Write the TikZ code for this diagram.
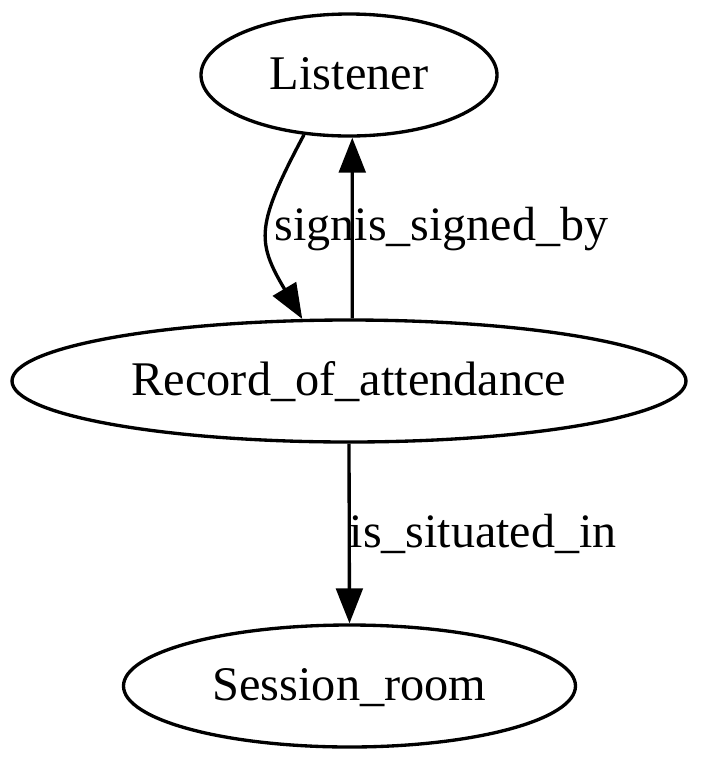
\documentclass[tikz,border=0pt]{standalone}
\usepackage{fontspec}
\setmainfont{Liberation Serif}
\usetikzlibrary{shapes.geometric,arrows.meta}
\begin{document}
\begin{tikzpicture}[x=0.3pt,y=-0.3pt,
  gnode/.style={draw,ellipse,line width=1pt,inner sep=0pt,minimum height=36.6pt,
    font=\fontsize{14.5pt}{16pt}\selectfont,text height=11.7pt,text depth=3pt},
  gedge/.style={line width=1pt,-{Triangle[length=10.5pt,width=8pt]}},
  glabel/.style={inner sep=0pt,anchor=base west,font=\fontsize{14.4pt}{16pt}\selectfont}]
\useasboundingbox (0,0) rectangle (700,762);
\node[gnode,minimum width=88.8pt] (L) at (349,75) {Listener};
\node[gnode,minimum width=202.2pt] (R) at (349,381) {Record\_of\_attendance};
\node[gnode,minimum width=135.6pt] (S) at (349.5,686) {Session\_room};
\draw[gedge] (L.233) .. controls (256,225) and (256,241) .. (R.127);
\draw[gedge] (R.87) -- (L.273);
\draw[gedge] (R.south) -- (S.north);
\node[glabel] (l1) at (274,240) {sign};
\node[glabel] (l2) at (354,240) {is\_signed\_by};
\node[glabel] (l3) at (349,547) {is\_situated\_in};
\end{tikzpicture}
\end{document}
